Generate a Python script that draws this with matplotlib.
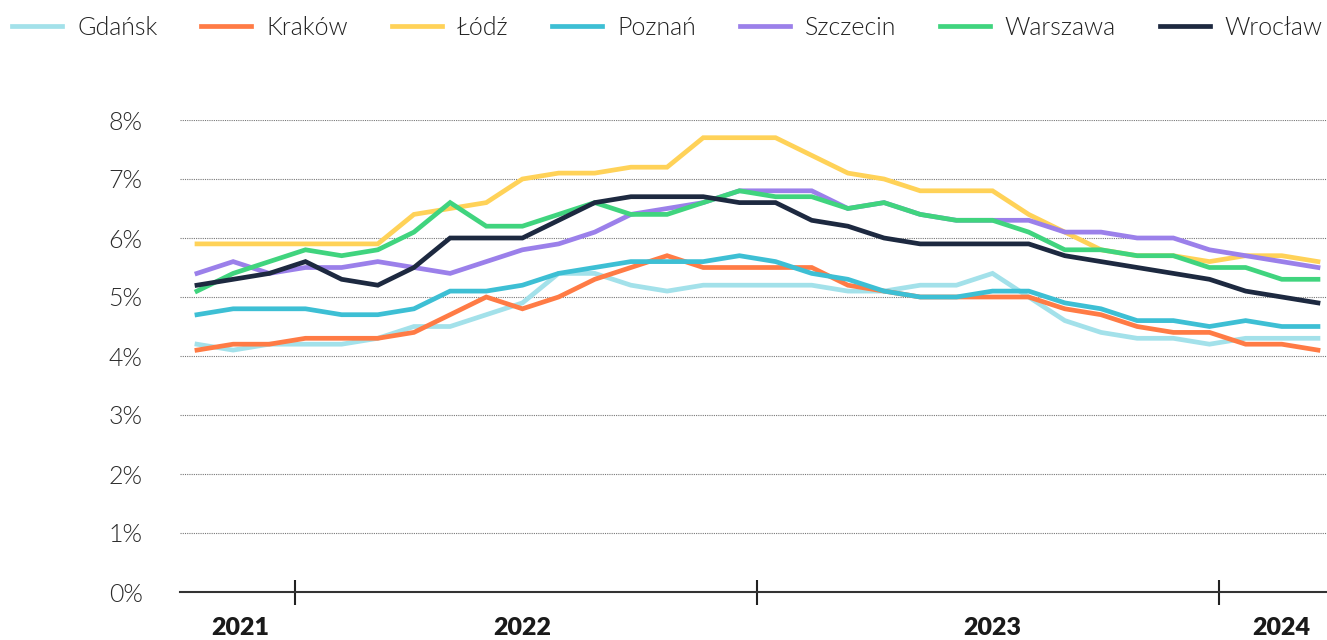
import matplotlib
matplotlib.use('Agg')
import matplotlib.pyplot as plt
from matplotlib.ticker import FixedLocator, FuncFormatter

plt.rcParams['font.family'] = ['Lato', 'DejaVu Sans']

# values in %, one point per period (32 periods, early 2021 - 2024)
cities = ['Gdańsk', 'Kraków', 'Łódź', 'Poznań', 'Szczecin', 'Warszawa', 'Wrocław']
gdansk = [4.2, 4.1, 4.2, 4.2, 4.2, 4.3, 4.5, 4.5, 4.7, 4.9, 5.4, 5.4, 5.2, 5.1, 5.2, 5.2,
          5.2, 5.2, 5.1, 5.1, 5.2, 5.2, 5.4, 5.0, 4.6, 4.4, 4.3, 4.3, 4.2, 4.3, 4.3, 4.3]
krakow = [4.1, 4.2, 4.2, 4.3, 4.3, 4.3, 4.4, 4.7, 5.0, 4.8, 5.0, 5.3, 5.5, 5.7, 5.5, 5.5,
          5.5, 5.5, 5.2, 5.1, 5.0, 5.0, 5.0, 5.0, 4.8, 4.7, 4.5, 4.4, 4.4, 4.2, 4.2, 4.1]
lodz = [5.9, 5.9, 5.9, 5.9, 5.9, 5.9, 6.4, 6.5, 6.6, 7.0, 7.1, 7.1, 7.2, 7.2, 7.7, 7.7,
        7.7, 7.4, 7.1, 7.0, 6.8, 6.8, 6.8, 6.4, 6.1, 5.8, 5.7, 5.7, 5.6, 5.7, 5.7, 5.6]
poznan = [4.7, 4.8, 4.8, 4.8, 4.7, 4.7, 4.8, 5.1, 5.1, 5.2, 5.4, 5.5, 5.6, 5.6, 5.6, 5.7,
          5.6, 5.4, 5.3, 5.1, 5.0, 5.0, 5.1, 5.1, 4.9, 4.8, 4.6, 4.6, 4.5, 4.6, 4.5, 4.5]
szczecin = [5.4, 5.6, 5.4, 5.5, 5.5, 5.6, 5.5, 5.4, 5.6, 5.8, 5.9, 6.1, 6.4, 6.5, 6.6, 6.8,
            6.8, 6.8, 6.5, 6.6, 6.4, 6.3, 6.3, 6.3, 6.1, 6.1, 6.0, 6.0, 5.8, 5.7, 5.6, 5.5]
warszawa = [5.1, 5.4, 5.6, 5.8, 5.7, 5.8, 6.1, 6.6, 6.2, 6.2, 6.4, 6.6, 6.4, 6.4, 6.6, 6.8,
            6.7, 6.7, 6.5, 6.6, 6.4, 6.3, 6.3, 6.1, 5.8, 5.8, 5.7, 5.7, 5.5, 5.5, 5.3, 5.3]
wroclaw = [5.2, 5.3, 5.4, 5.6, 5.3, 5.2, 5.5, 6.0, 6.0, 6.0, 6.3, 6.6, 6.7, 6.7, 6.7, 6.6,
           6.6, 6.3, 6.2, 6.0, 5.9, 5.9, 5.9, 5.9, 5.7, 5.6, 5.5, 5.4, 5.3, 5.1, 5.0, 4.9]
series = [gdansk, krakow, lodz, poznan, szczecin, warszawa, wroclaw]

years = ['2021', '2022', '2023', '2024']
year_label_pos = [1.2, 9.0, 22.0, 30.0]   # in period units
year_bounds = [2.7, 15.5, 28.25]
yticks = [0, 1, 2, 3, 4, 5, 6, 7, 8]

colors = ['#a3e1ea', '#ff7b45', '#ffd258', '#3dbfd4', '#9b80ea', '#40d47e', '#1d2940']

fig = plt.figure(figsize=(13.27, 6.4), dpi=100)
ax = fig.add_axes([180 / 1327, 48 / 640, 1147 / 1327, 472 / 640])

x = list(range(len(gdansk)))
for name, vals, c in zip(cities, series, colors):
    ax.plot(x, vals, color=c, lw=3.4, label=name, solid_joinstyle='miter', clip_on=False)

ax.set_xlim(-0.47, 31.25)
ax.set_ylim(0, 8)

ax.yaxis.set_major_locator(FixedLocator(yticks))
ax.yaxis.set_major_formatter(FuncFormatter(lambda v, p: f'{v:.0f}%'))
ax.tick_params(axis='y', length=0, pad=27, labelsize=18, labelcolor='#2a2a2a')
for t in ax.get_yticklabels():
    t.set_fontweight(300)
ax.grid(axis='y', color='#777777', lw=0.8, ls=(0, (1, 1)))
ax.set_axisbelow(True)

ax.xaxis.set_major_locator(FixedLocator(year_bounds))
ax.xaxis.set_major_formatter(FuncFormatter(lambda v, p: ''))
ax.tick_params(axis='x', direction='inout', length=18, width=1.5, color='#222222')
for xp, yr in zip(year_label_pos, years):
    ax.text(xp, -0.076, yr, transform=ax.get_xaxis_transform(), ha='center', va='center',
            fontsize=18, fontweight='heavy', color='#1a1a1a')

for s in ['top', 'right', 'left']:
    ax.spines[s].set_visible(False)
ax.spines['bottom'].set_color('#333333')
ax.spines['bottom'].set_linewidth(1.5)

fig.legend(loc='center', bbox_to_anchor=(0.503, 1 - 28 / 640), ncol=7, frameon=False,
           prop={'size': 18, 'weight': 300}, handlelength=2.0, handletextpad=0.6,
           columnspacing=1.75, labelcolor='#222222')

fig.savefig('out.png', dpi=100)
